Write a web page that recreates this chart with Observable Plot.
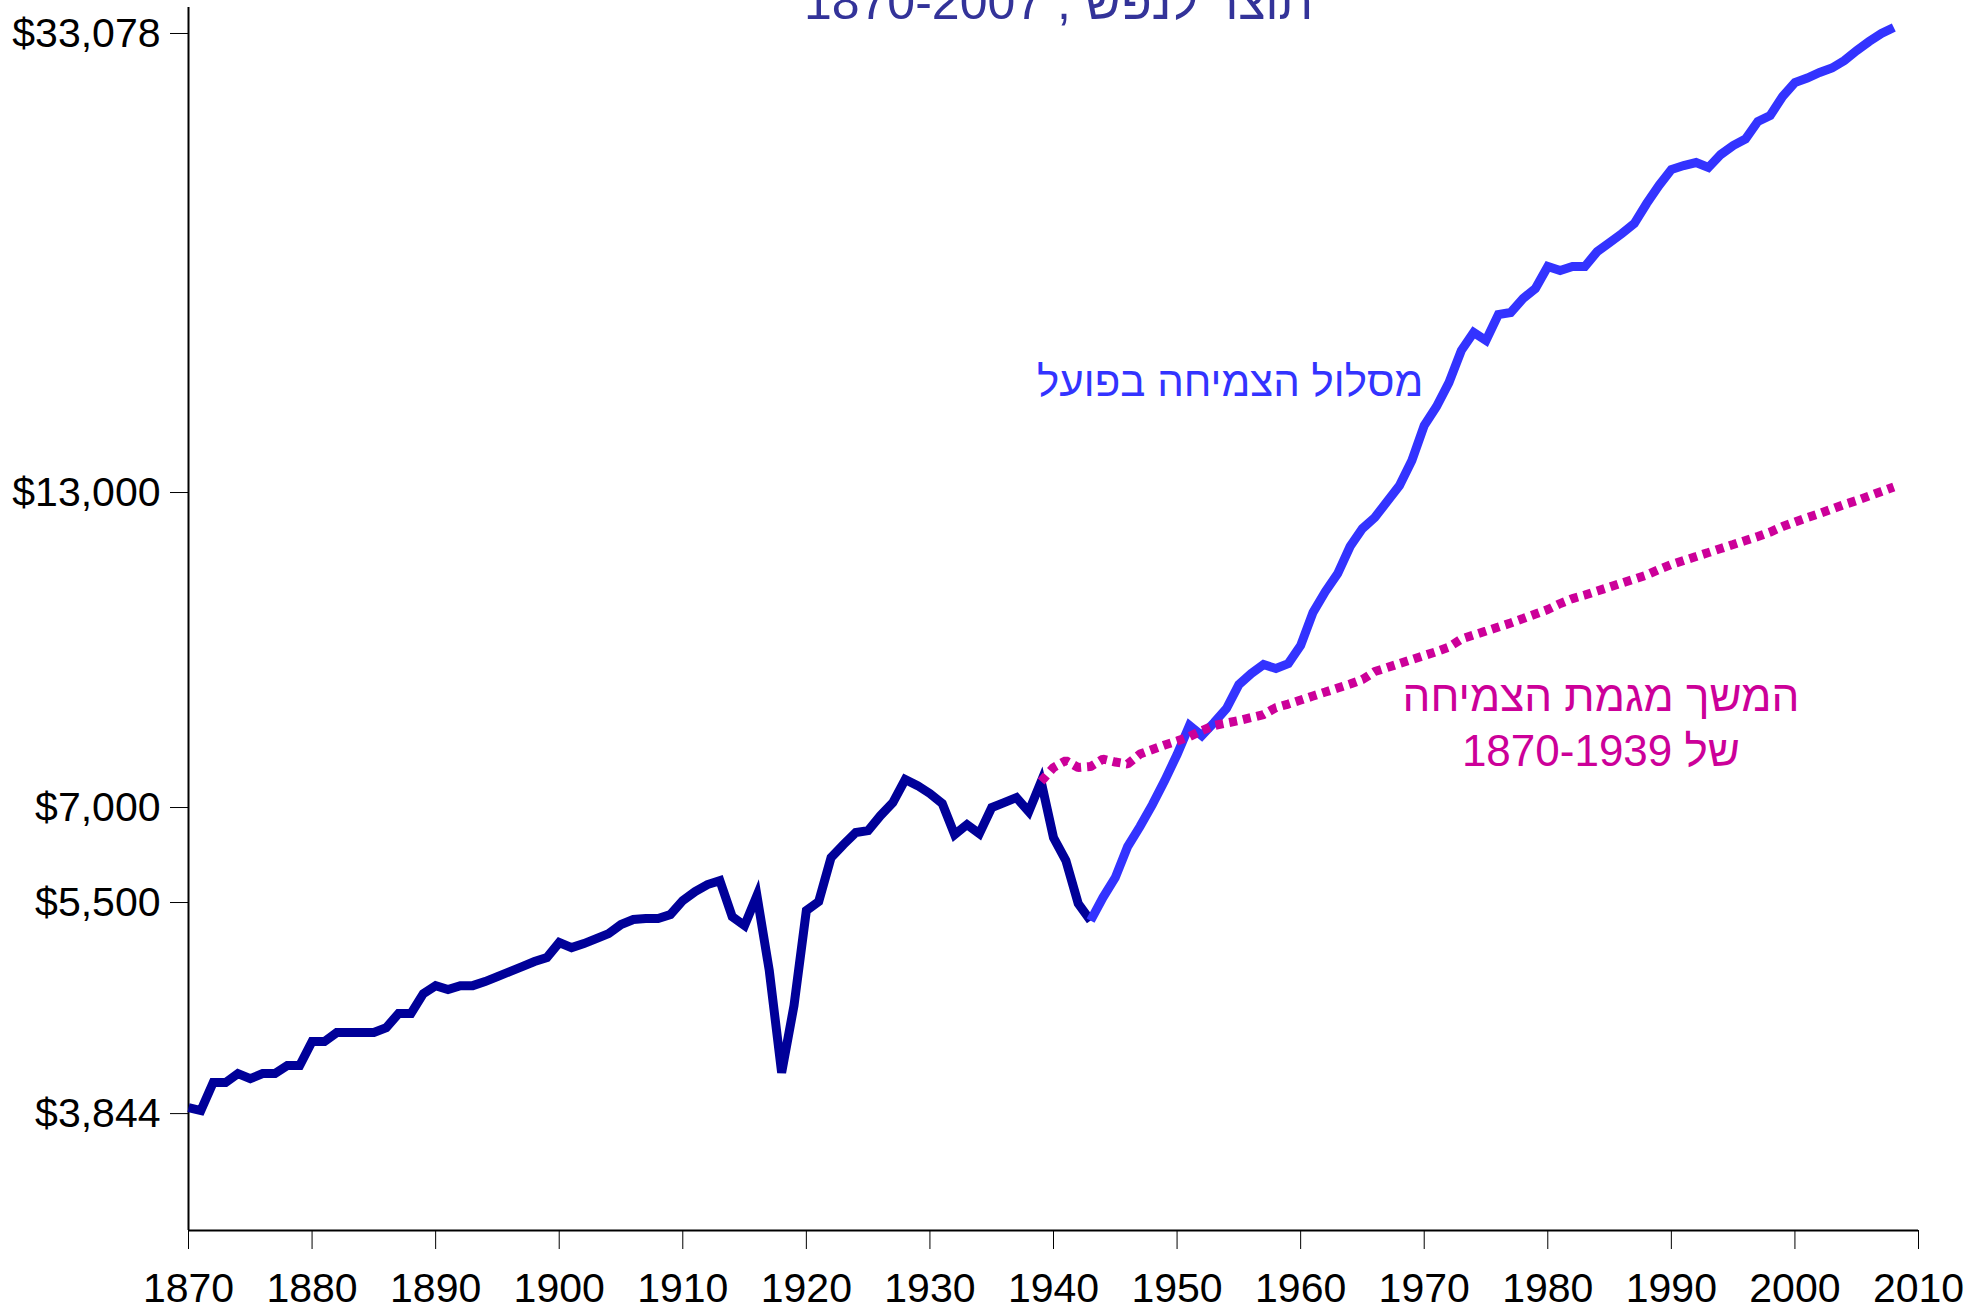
<!DOCTYPE html>
<html>
<head>
<meta charset="utf-8">
<script src="https://cdn.jsdelivr.net/npm/d3@7"></script>
<script src="https://cdn.jsdelivr.net/npm/@observablehq/plot@0.6"></script>
<style>
html, body { margin: 0; padding: 0; background: #ffffff; }
#chart { position: relative; width: 1984px; height: 1311px; overflow: hidden; }
#chart svg { overflow: hidden; }
</style>
</head>
<body>
<div id="chart"></div>
<script>
// ---- data (GDP per capita) ----
const titleText = "תוצר לנפש , 1870-2007";

const darkYears = [1870,1871,1872,1873,1874,1875,1876,1877,1878,1879,1880,1881,1882,1883,1884,1885,1886,1887,1888,1889,
  1890,1891,1892,1893,1894,1895,1896,1897,1898,1899,1900,1901,1902,1903,1904,1905,1906,1907,1908,1909,
  1910,1911,1912,1913,1914,1915,1916,1917,1918,1919,1920,1921,1922,1923,1924,1925,1926,1927,1928,1929,
  1930,1931,1932,1933,1934,1935,1936,1937,1938,1939,1940,1941,1942,1943];
const darkValues = [3867,3844,4065,4065,4138,4097,4138,4138,4205,4205,4411,4411,4491,4491,4491,4491,4535,4664,4664,4853,
  4931,4892,4931,4931,4971,5021,5071,5122,5173,5214,5373,5319,5362,5416,5470,5569,5625,5636,5636,5681,
  5842,5948,6031,6079,5658,5558,5900,5081,4146,4739,5726,5830,6364,6531,6690,6716,6920,7102,7435,7346,
  7230,7088,6663,6797,6676,7031,7102,7173,6975,7405,6623,6327,5807,5614];

const actualYears = [1943,1944,1945,1946,1947,1948,1949,1950,1951,1952,1953,1954,1955,1956,1957,1958,1959,
  1960,1961,1962,1963,1964,1965,1966,1967,1968,1969,1970,1971,1972,1973,1974,1975,1976,1977,1978,1979,
  1980,1981,1982,1983,1984,1985,1986,1987,1988,1989,1990,1991,1992,1993,1994,1995,1996,1997,1998,1999,
  2000,2001,2002,2003,2004,2005,2006,2007,2008];
const actualValues = [5614,5877,6116,6505,6770,7073,7420,7815,8280,8116,8329,8565,8984,9184,9350,9276,9368,
  9711,10371,10814,11209,11829,12261,12533,12939,13358,14040,15055,15635,16401,17481,18120,17833,18781,18856,19390,19780,
  20667,20503,20667,20667,21294,21679,22071,22516,23431,24287,25074,25275,25426,25174,25835,26303,26645,27592,27924,29001,
  29822,30090,30422,30696,31158,31785,32361,32881,33276];

const trendYears = [1939,1940,1941,1942,1943,1944,1945,1946,1947,1948,1949,1950,1951,1952,1953,1954,1955,1956,1957,1958,1959,
  1960,1961,1962,1963,1964,1965,1966,1967,1968,1969,1970,1971,1972,1973,1974,1975,1976,1977,1978,1979,
  1980,1981,1982,1983,1984,1985,1986,1987,1988,1989,1990,1991,1992,1993,1994,1995,1996,1997,1998,1999,
  2000,2001,2002,2003,2004,2005,2006,2007,2008];
const trendValues = [7405,7615,7722,7615,7630,7745,7699,7668,7822,7893,7964,8028,8100,8197,8280,8321,8362,8413,8463,8582,8642,
  8711,8781,8851,8922,8993,9074,9220,9294,9368,9443,9519,9595,9682,9837,9916,9995,10075,10156,10247,10340,
  10433,10558,10664,10739,10825,10911,10999,11087,11176,11299,11412,11503,11595,11688,11782,11876,11971,12067,12176,12310,
  12421,12533,12633,12747,12862,12965,13082,13200,13319];

const xTicks = [1870,1880,1890,1900,1910,1920,1930,1940,1950,1960,1970,1980,1990,2000,2010];
const yTickValues = [3844,5854,7074,13252,33078];
const yTickLabels = ["$3,844","$5,500","$7,000","$13,000","$33,078"];
const xDomain = [1870, 2010];
const yDomain = [3027, 34629];

const actualLabel = [{year: 1954.3, value: 15982, text: "מסלול הצמיחה בפועל"}];
const trendLabel = [{year: 1984.3, value: 7645, text: "המשך מגמת הצמיחה\nשל 1870-1939"}];

// ---- build ----
const toRows = (years, values) => years.map((year, i) => ({year, value: values[i]}));
const dark = toRows(darkYears, darkValues);
const actual = toRows(actualYears, actualValues);
const trend = toRows(trendYears, trendValues);
const yLabelMap = new Map(yTickValues.map((v, i) => [v, yTickLabels[i]]));
const FONT = "'Liberation Sans', Arial, Helvetica, sans-serif";

const chart = Plot.plot({
  width: 1984,
  height: 1311,
  marginTop: 7,
  marginBottom: 81,
  marginLeft: 188,
  marginRight: 66,
  style: {fontFamily: FONT, fontSize: "41px", background: "#ffffff", color: "#000000", overflow: "hidden"},
  x: {domain: xDomain},
  y: {type: "log", domain: yDomain},
  marks: [
    Plot.axisX({ticks: xTicks, tickFormat: d => String(d), tickSize: 19, tickPadding: 23, fontSize: 41, label: null}),
    Plot.axisY({ticks: yTickValues, tickFormat: d => yLabelMap.get(d), tickSize: 18, tickPadding: 10, fontSize: 41, dy: 3, label: null}),
    Plot.ruleY([yDomain[0]], {stroke: "#000000", strokeWidth: 2}),
    Plot.ruleX([xDomain[0]], {stroke: "#000000", strokeWidth: 2}),
    Plot.line(dark, {x: "year", y: "value", stroke: "#000099", strokeWidth: 9, strokeLinejoin: "miter", strokeLinecap: "butt", strokeMiterlimit: 4}),
    Plot.line(actual, {x: "year", y: "value", stroke: "#3333FF", strokeWidth: 9, strokeLinejoin: "miter", strokeLinecap: "butt", strokeMiterlimit: 4}),
    Plot.line(trend, {x: "year", y: "value", stroke: "#CC0099", strokeWidth: 9, strokeDasharray: "8,6", strokeLinejoin: "miter", strokeLinecap: "butt"}),
    Plot.text(actualLabel, {x: "year", y: "value", text: "text", fill: "#3333FF", fontSize: 42, textAnchor: "middle", lineAnchor: "bottom"}),
    Plot.text(trendLabel, {x: "year", y: "value", text: "text", fill: "#CC0099", fontSize: 44, lineHeight: 1.25, textAnchor: "middle", lineAnchor: "bottom"}),
    Plot.text([titleText], {text: d => d, frameAnchor: "top", dx: 5, dy: 11, fill: "#333399", fontSize: 50, textAnchor: "middle", lineAnchor: "bottom"})
  ]
});
document.getElementById("chart").appendChild(chart);
</script>
</body>
</html>
